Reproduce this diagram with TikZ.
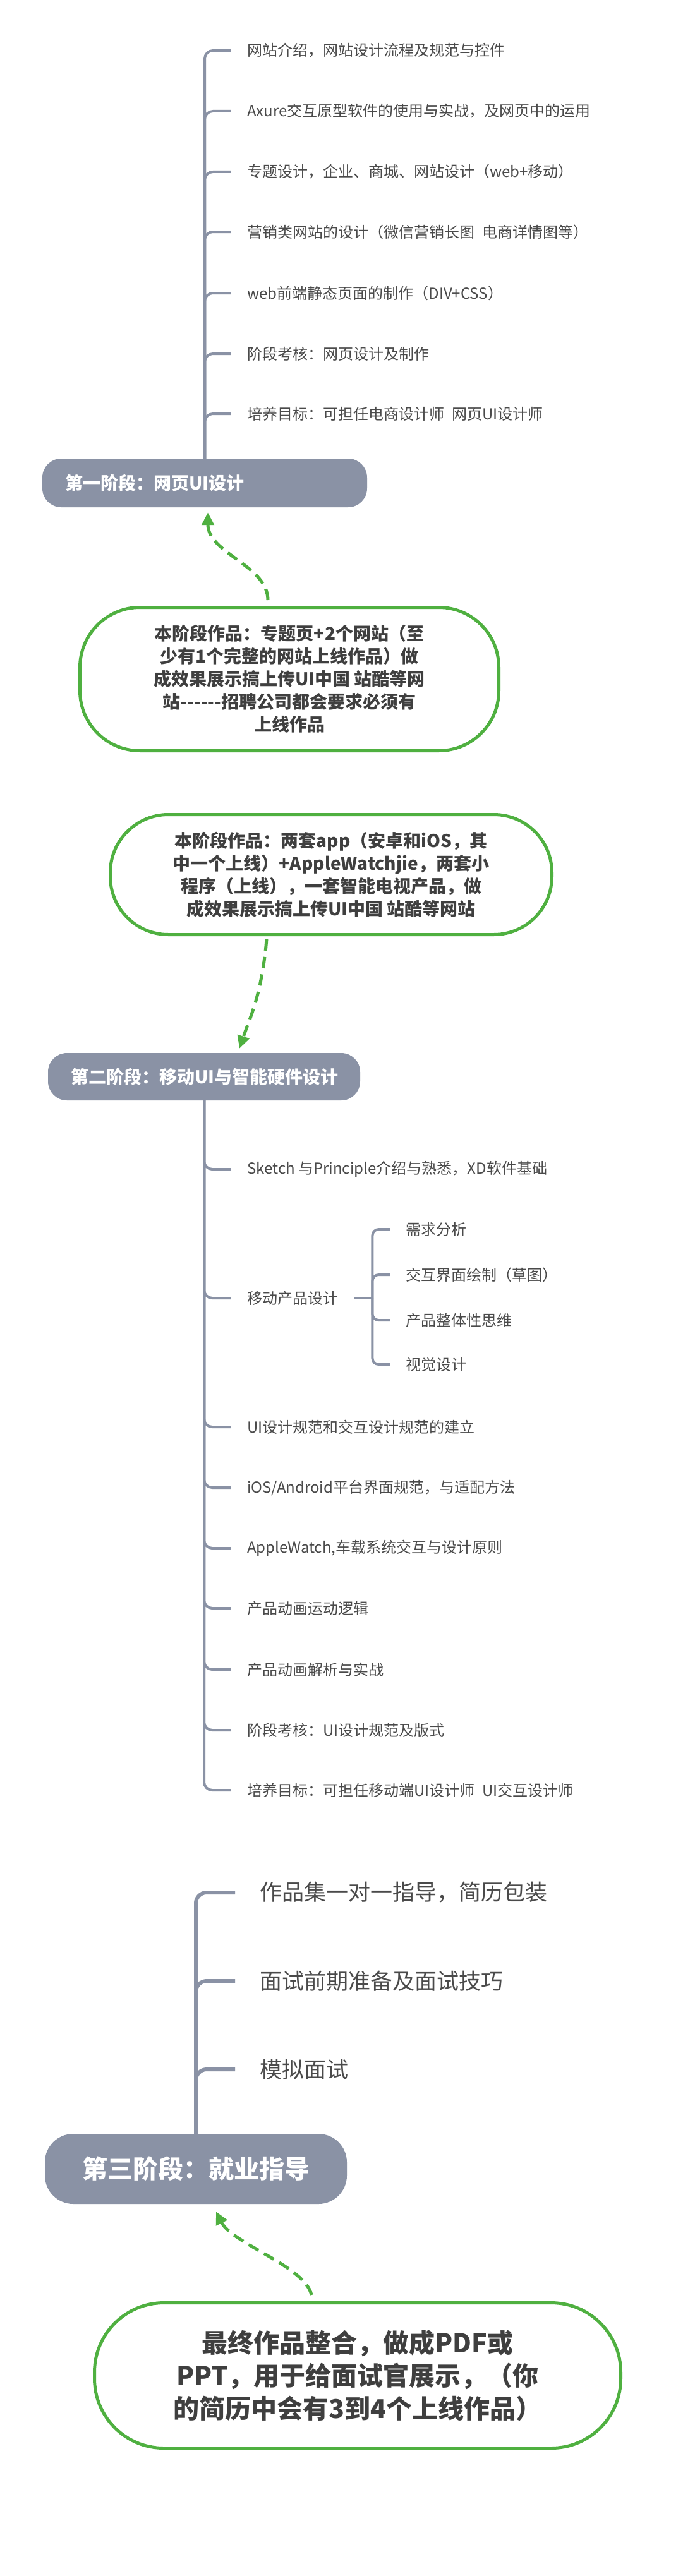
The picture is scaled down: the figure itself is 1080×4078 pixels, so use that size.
\documentclass[tikz,border=0pt]{standalone}
\usepackage{fontspec}
\setmainfont{Noto Sans CJK SC}[Ligatures=TeXOff]
\usetikzlibrary{arrows.meta}
\definecolor{ruGris}{HTML}{8A92A5}
\definecolor{ruVerde}{HTML}{4FB040}
\definecolor{ruTexto}{HTML}{4A4A4A}
\definecolor{ruNota}{HTML}{3F3F3F}

\begin{document}
\begin{tikzpicture}[x=1pt, y=-1pt,
     etapa/.style={rectangle, rounded corners=30pt, fill=ruGris, text=white,
                   font=\fontsize{28}{34}\selectfont\bfseries, align=left,
                   inner xsep=36pt, inner ysep=0pt, minimum height=77pt},
     tema/.style={anchor=west, inner sep=0pt, text=ruTexto,
                  font=\fontsize{24}{29}\selectfont},
     nota/.style={rectangle, rounded corners=95pt, draw=ruVerde, line width=5pt,
                  fill=white, align=center, text=ruNota,
                  font=\fontsize{28}{36}\selectfont\bfseries},
     rama/.style={ruGris, line width=4pt, rounded corners=13pt},
     fl/.style={-{Triangle[length=20pt,width=19pt]}, ruVerde, line width=5pt,
                dash pattern=on 18pt off 10pt}]
    \fill[white] (0,0) rectangle (1080,4078);
    \useasboundingbox (0,0) rectangle (1080,4078);

    % etapa 1
    \node[etapa, text width=442pt] (s1) at (324,764.5) {第一阶段：网页UI设计};
    \node[tema] (a1) at (391,80) {网站介绍，网站设计流程及规范与控件};
    \node[tema] (a2) at (391,176) {Axure交互原型软件的使用与实战，及网页中的运用};
    \node[tema] (a3) at (391,272) {专题设计，企业、商城、网站设计（web+移动）};
    \node[tema] (a4) at (391,367) {营销类网站的设计（微信营销长图\hspace{0.5em}电商详情图等）};
    \node[tema] (a5) at (391,464) {web前端静态页面的制作（DIV+CSS）};
    \node[tema] (a6) at (391,560) {阶段考核：网页设计及制作};
    \node[tema] (a7) at (391,655) {培养目标：可担任电商设计师\hspace{0.5em}网页UI设计师};
    \draw[rama] (s1.north) |- ([xshift=-26pt]a1.west);
    \draw[rama] (s1.north) |- ([xshift=-26pt]a2.west);
    \draw[rama] (s1.north) |- ([xshift=-26pt]a3.west);
    \draw[rama] (s1.north) |- ([xshift=-26pt]a4.west);
    \draw[rama] (s1.north) |- ([xshift=-26pt]a5.west);
    \draw[rama] (s1.north) |- ([xshift=-26pt]a6.west);
    \draw[rama] (s1.north) |- ([xshift=-26pt]a7.west);

    \node[nota, minimum width=663pt, minimum height=227pt] (n1) at (458,1075)
      {本阶段作品：专题页+2个网站（至\\少有1个完整的网站上线作品）做\\成效果展示搞上传UI中国 站酷等网\\站------招聘公司都会要求必须有\\上线作品};
    \draw[fl] ([xshift=-34pt,yshift=9pt]n1.north) .. controls +(0,-55) and +(0,65) .. ([xshift=5pt,yshift=-8pt]s1.south);

    % etapa 2
    \node[nota, rounded corners=92pt, minimum width=699pt, minimum height=190pt] (n2) at (524,1384.5)
      {本阶段作品：两套app（安卓和iOS，其\\中一个上线）+AppleWatchjie，两套小\\程序（上线），一套智能电视产品，做\\成效果展示搞上传UI中国 站酷等网站};
    \node[etapa, text width=422pt, minimum height=75pt] (s2) at (323,1704.5) {第二阶段：移动UI与智能硬件设计};
    \draw[fl] ([xshift=-102pt,yshift=-5pt]n2.south) .. controls +(-8,90) and +(15,-45) .. ([xshift=56pt,yshift=7pt]s2.north);

    \node[tema] (b1) at (391,1851) {Sketch 与Principle介绍与熟悉，XD软件基础};
    \node[tema] (b2) at (391,2055) {移动产品设计};
    \node[tema] (b3) at (391,2259) {UI设计规范和交互设计规范的建立};
    \node[tema] (b4) at (391,2355) {iOS/Android平台界面规范，与适配方法};
    \node[tema] (b5) at (391,2451) {AppleWatch,车载系统交互与设计原则};
    \node[tema] (b6) at (391,2546) {产品动画运动逻辑};
    \node[tema] (b7) at (391,2643) {产品动画解析与实战};
    \node[tema] (b8) at (391,2739) {阶段考核：UI设计规范及版式};
    \node[tema] (b9) at (391,2834) {培养目标：可担任移动端UI设计师\hspace{0.5em}UI交互设计师};
    \draw[rama] (s2.south) |- ([xshift=-26pt]b1.west);
    \draw[rama] (s2.south) |- ([xshift=-26pt]b2.west);
    \draw[rama] (s2.south) |- ([xshift=-26pt]b3.west);
    \draw[rama] (s2.south) |- ([xshift=-26pt]b4.west);
    \draw[rama] (s2.south) |- ([xshift=-26pt]b5.west);
    \draw[rama] (s2.south) |- ([xshift=-26pt]b6.west);
    \draw[rama] (s2.south) |- ([xshift=-26pt]b7.west);
    \draw[rama] (s2.south) |- ([xshift=-26pt]b8.west);
    \draw[rama] (s2.south) |- ([xshift=-26pt]b9.west);

    \node[tema] (c1) at (642,1946) {需求分析};
    \node[tema] (c2) at (642,2018) {交互界面绘制（草图）};
    \node[tema] (c3) at (642,2090) {产品整体性思维};
    \node[tema] (c4) at (642,2160) {视觉设计};
    \draw[rama] ([xshift=26pt]b2.east) -- ++(28,0) coordinate (j);
    \draw[rama, rounded corners=10pt] (j) |- ([xshift=-25pt]c1.west);
    \draw[rama, rounded corners=10pt] (j) |- ([xshift=-25pt]c2.west);
    \draw[rama, rounded corners=10pt] (j) |- ([xshift=-25pt]c3.west);
    \draw[rama, rounded corners=10pt] (j) |- ([xshift=-25pt]c4.west);

    % etapa 3
    \node[etapa, align=center, font=\fontsize{40}{48}\selectfont\bfseries, rounded corners=45pt,
          inner xsep=0pt, minimum width=478pt, minimum height=111pt] (s3) at (310,3433.5) {第三阶段：就业指导};
    \node[tema, font=\fontsize{35}{42}\selectfont] (d1) at (411,2996) {作品集一对一指导，简历包装};
    \node[tema, font=\fontsize{35}{42}\selectfont] (d2) at (411,3136) {面试前期准备及面试技巧};
    \node[tema, font=\fontsize{35}{42}\selectfont] (d3) at (411,3276) {模拟面试};
    \draw[rama, line width=6pt, rounded corners=17pt] (s3.north) |- ([xshift=-39pt]d1.west);
    \draw[rama, line width=6pt, rounded corners=17pt] (s3.north) |- ([xshift=-39pt]d2.west);
    \draw[rama, line width=6pt, rounded corners=17pt] (s3.north) |- ([xshift=-39pt]d3.west);

    \node[nota, rounded corners=110pt, font=\fontsize{41}{52}\selectfont\bfseries,
          minimum width=833pt, minimum height=230pt] (n3) at (566,3760.5)
      {最终作品整合，做成PDF或\\PPT，用于给面试官展示，（你\\的简历中会有3到4个上线作品）};
    \draw[fl] ([xshift=-73pt,yshift=10pt]n3.north) .. controls +(-10,-45) and +(25,50) .. ([xshift=32pt,yshift=-12pt]s3.south);
  \end{tikzpicture}
\end{document}
